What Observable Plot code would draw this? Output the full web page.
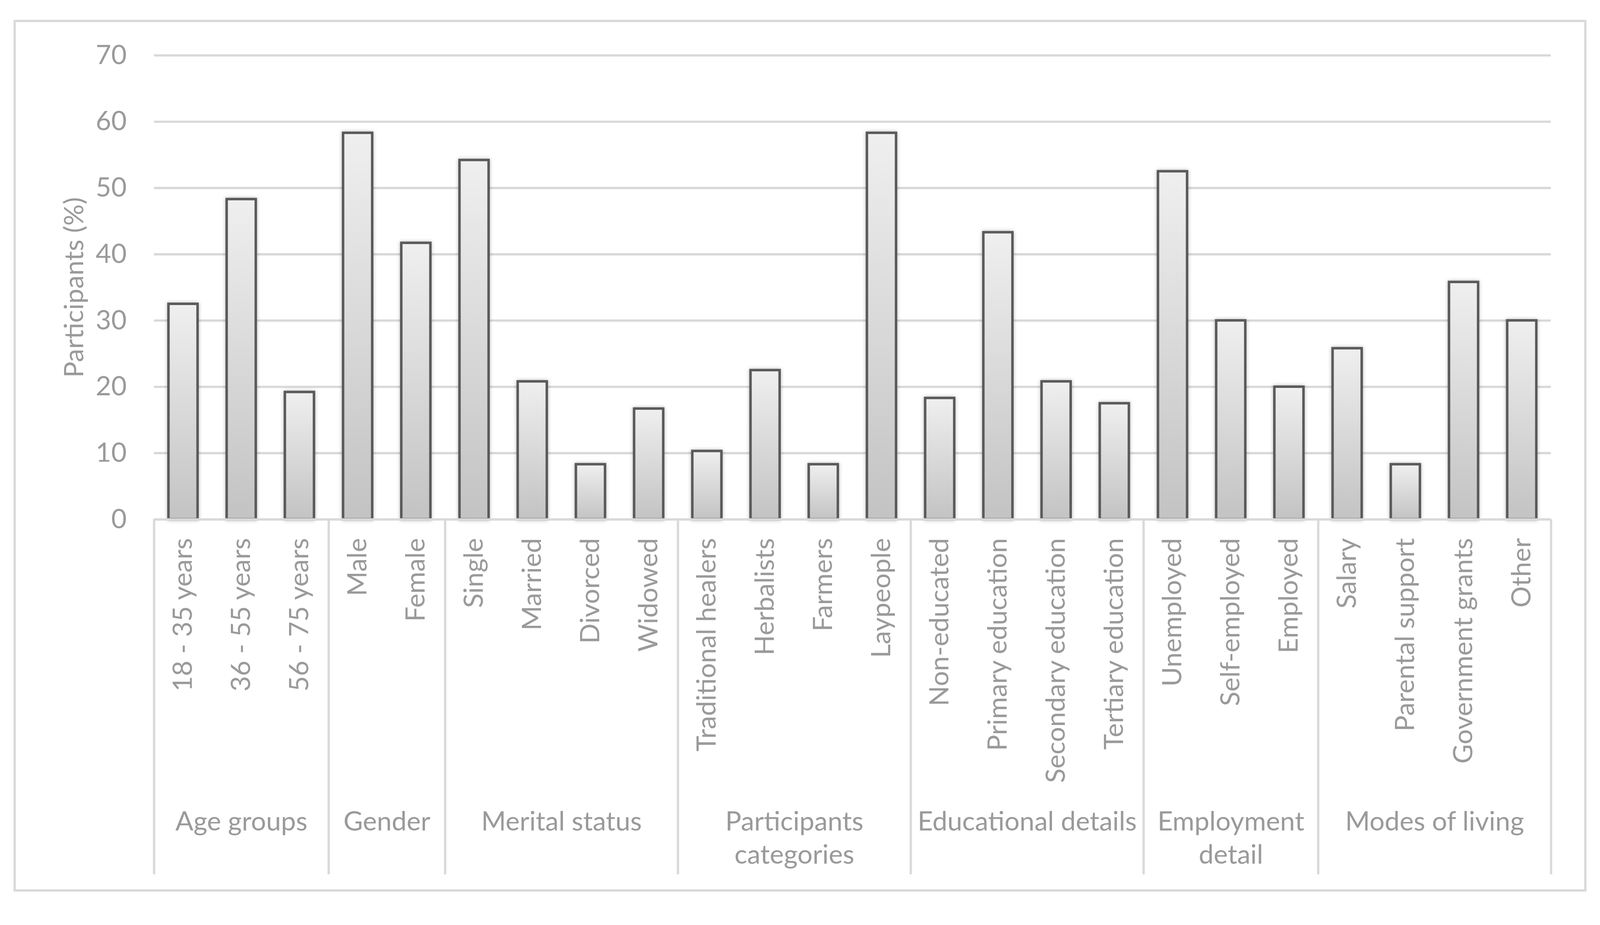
<!DOCTYPE html>
<html>
<head>
<meta charset="utf-8">
<script src="https://cdn.jsdelivr.net/npm/d3@7"></script>
<script src="https://cdn.jsdelivr.net/npm/@observablehq/plot@0.6"></script>
<style>
  html, body { margin: 0; padding: 0; background: #ffffff; }
  #chart svg g[aria-label="bar"] rect { filter: drop-shadow(0px 0px 5px rgba(0,0,0,0.28)); }
</style>
</head>
<body>
<div id="chart"></div>
<script>
// ---- data ----
const groupNames = ["Age groups", "Gender", "Merital status", "Participants\ncategories", "Educational details", "Employment\ndetail", "Modes of living"];
const categories = ["18 - 35 years", "36 - 55 years", "56 - 75 years", "Male", "Female", "Single", "Married", "Divorced", "Widowed", "Traditional healers", "Herbalists", "Farmers", "Laypeople", "Non-educated", "Primary education", "Secondary education", "Tertiary education", "Unemployed", "Self-employed", "Employed", "Salary", "Parental support", "Government grants", "Other"];
const categoryGroup = [0, 0, 0, 1, 1, 2, 2, 2, 2, 3, 3, 3, 3, 4, 4, 4, 4, 5, 5, 5, 6, 6, 6, 6];
const values = [32.5, 48.3, 19.2, 58.3, 41.7, 54.2, 20.8, 8.3, 16.7, 10.3, 22.5, 8.3, 58.3, 18.3, 43.3, 20.8, 17.5, 52.5, 30.0, 20.0, 25.8, 8.3, 35.8, 30.0];
const yTicks = [0, 10, 20, 30, 40, 50, 60, 70];
const yLabel = "Participants (%)";

// ---- table built from arrays ----
const rows = categories.map((c, i) => ({category: c, value: values[i], group: categoryGroup[i]}));
const groups = groupNames.map((name, g) => {
  const members = categories.filter((c, i) => categoryGroup[i] === g);
  return {name, first: members[0], count: members.length};
});

// ---- layout / style ----
const W = 4200, H = 2368;
const ML = 404, MR = 129, MT = 145, MB = 1005;
const FS = 70;
const TEXT = "#9a9a9a";
const GRID = "#d9d9d9";
const LINE_W = 6;
const xScale = {type: "band", domain: categories, paddingInner: 0.5, paddingOuter: 0.25, round: false, axis: null};
const yScale = {domain: [0, 70], axis: null};

// first pass: read the band step from Plot's own x scale
const probe = Plot.plot({width: W, height: H, marginLeft: ML, marginRight: MR, marginTop: MT, marginBottom: MB,
  x: xScale, y: yScale, marks: [Plot.barY(rows, {x: "category", y: "value"})]});
const step = probe.scale("x").step;

const lineHeight = 88 / FS;
const groupDy = (2179 - 1363) - 0.71 * lineHeight * FS;

const defsMark = () => {
  const defs = d3.create("svg:defs");
  const g = defs.append("linearGradient").attr("id", "barGrad")
    .attr("x1", 0).attr("y1", 0).attr("x2", 0).attr("y2", 1);
  g.append("stop").attr("offset", 0).attr("stop-color", "#efefef");
  g.append("stop").attr("offset", 1).attr("stop-color", "#c3c3c3");
  return defs.node();
};

const groupStarts = groups.map(g => g.first);
const lastCategory = categories[categories.length - 1];

const groupLabelMarks = groups.map(g => Plot.text([g], {
  x: "first", text: "name", frameAnchor: "bottom",
  dx: (g.count - 1) / 2 * step, dy: groupDy,
  lineAnchor: "top", lineHeight, textAnchor: "middle",
  fontSize: FS, fill: TEXT
}));

const chart = Plot.plot({
  width: W, height: H,
  marginLeft: ML, marginRight: MR, marginTop: MT, marginBottom: MB,
  style: {fontFamily: "Lato, 'Open Sans', sans-serif", background: "#ffffff"},
  x: xScale,
  y: yScale,
  marks: [
    defsMark,
    // outer chart border
    Plot.frame({stroke: GRID, strokeWidth: LINE_W, insetLeft: -(ML - 38), insetTop: -(MT - 54.5), insetRight: -(4161 - (W - MR)), insetBottom: -(2337 - (H - MB))}),
    // horizontal gridlines
    Plot.gridY(yTicks.slice(1), {stroke: GRID, strokeOpacity: 1, strokeWidth: LINE_W}),
    // y tick labels
    Plot.axisY(yTicks, {tickSize: 0, tickPadding: 72, fontSize: FS, color: TEXT, label: null}),
    // y axis title
    Plot.text([yLabel], {frameAnchor: "left", rotate: -90, dx: 196 - ML, textAnchor: "middle", lineAnchor: "middle", fontSize: FS, fill: TEXT}),
    // bars
    Plot.barY(rows, {x: "category", y: "value", fill: "url(#barGrad)", stroke: "#5a5a5a", strokeWidth: 6.5}),
    // category axis baseline
    Plot.ruleY([0], {stroke: GRID, strokeWidth: LINE_W}),
    // group separators
    Plot.ruleX(groupStarts, {dx: -step / 2, insetTop: (H - MB) - MT, insetBottom: -(2295 - (H - MB)), stroke: GRID, strokeWidth: LINE_W}),
    Plot.ruleX([lastCategory], {dx: step / 2, insetTop: (H - MB) - MT, insetBottom: -(2295 - (H - MB)), stroke: GRID, strokeWidth: LINE_W}),
    // category labels
    Plot.text(rows, {x: "category", text: "category", frameAnchor: "bottom", dy: 49, rotate: -90, textAnchor: "end", lineAnchor: "middle", fontSize: FS, fill: TEXT}),
    // group labels
    ...groupLabelMarks
  ]
});

document.getElementById("chart").appendChild(chart);
</script>
</body>
</html>
